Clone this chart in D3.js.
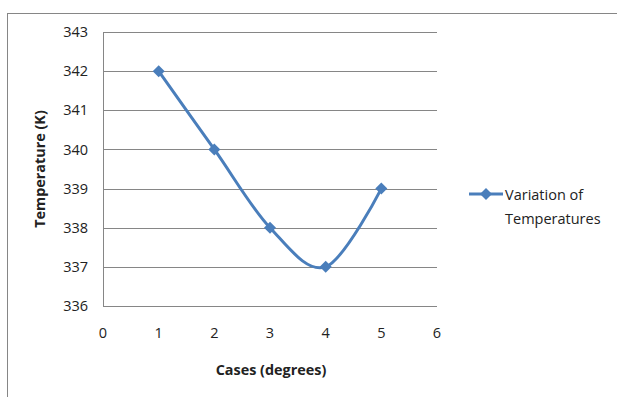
<!DOCTYPE html>
<html><head><meta charset="utf-8">
<script src="https://cdn.jsdelivr.net/npm/d3@7"></script>
<style>body{margin:0;background:#fff}svg{display:block}text{font-family:"Open Sans","Noto Sans",sans-serif}</style>
</head><body><svg id="c" width="617" height="397"></svg>
<script>
const cases = [1, 2, 3, 4, 5];
const temperatures = [342, 340, 338, 337, 339];
const xTicks = [0, 1, 2, 3, 4, 5, 6];
const yTicks = [336, 337, 338, 339, 340, 341, 342, 343];
const seriesName = ["Variation of", "Temperatures"];

const svg = d3.select("#c");
const color = "#4a7ebb";
svg.append("rect").attr("x", 7.5).attr("y", 13.5).attr("width", 640).attr("height", 420)
  .attr("fill", "#fff").attr("stroke", "#868686").attr("stroke-width", 1);

const x = d3.scaleLinear().domain([0, 6]).range([103, 437]);
const y = d3.scaleLinear().domain([336, 343]).range([306, 32]);

const g = svg.append("g");
g.selectAll("line.grid").data(yTicks).enter().append("line")
  .attr("x1", x(0)).attr("x2", x(6))
  .attr("y1", d => Math.round(y(d)) + 0.5).attr("y2", d => Math.round(y(d)) + 0.5)
  .attr("stroke", "#868686").attr("stroke-width", 1);
g.append("line").attr("x1", x(0) + 0.5).attr("x2", x(0) + 0.5).attr("y1", y(343)).attr("y2", y(336))
  .attr("stroke", "#868686");

const fs = 14.5;
g.selectAll("text.yt").data(yTicks).enter().append("text")
  .attr("x", 88).attr("y", d => y(d)).attr("dy", "0.35em").attr("text-anchor", "end")
  .attr("font-size", fs).attr("fill", "#222").text(d => d);
g.selectAll("text.xt").data(xTicks).enter().append("text")
  .attr("x", d => x(d)).attr("y", 333).attr("dy", "0.35em").attr("text-anchor", "middle")
  .attr("font-size", fs).attr("fill", "#222").text(d => d);

svg.append("text").attr("x", 271).attr("y", 370).attr("dy", "0.35em").attr("text-anchor", "middle")
  .attr("font-size", 14.4).attr("font-weight", "bold").attr("fill", "#222").text("Cases (degrees)");
svg.append("text").attr("transform", "translate(40,169) rotate(-90)").attr("dy", "0.35em")
  .attr("text-anchor", "middle").attr("font-size", 14.4).attr("font-weight", "bold").attr("fill", "#222")
  .text("Temperature (K)");

const pts = cases.map((c, i) => [c, temperatures[i]]);
const line = d3.line().x(d => x(d[0])).y(d => y(d[1])).curve(d3.curveCardinal.tension(0));
svg.append("path").attr("d", line(pts)).attr("fill", "none").attr("stroke", color)
  .attr("stroke-width", 3).attr("stroke-linejoin", "round");
const diamond = "M0,-6L6,0L0,6L-6,0Z";
svg.selectAll("path.m").data(pts).enter().append("path")
  .attr("transform", d => `translate(${x(d[0])},${y(d[1])})`)
  .attr("d", diamond).attr("fill", color);

// legend
svg.append("line").attr("x1", 469).attr("x2", 503).attr("y1", 194).attr("y2", 194)
  .attr("stroke", color).attr("stroke-width", 3);
svg.append("path").attr("transform", "translate(486,194)").attr("d", diamond).attr("fill", color);
svg.selectAll("text.lg").data(seriesName).enter().append("text")
  .attr("x", 505).attr("y", (d, i) => 195 + i * 24).attr("dy", "0.35em")
  .attr("font-size", 14.5).attr("fill", "#222").text(d => d);
</script></body></html>
